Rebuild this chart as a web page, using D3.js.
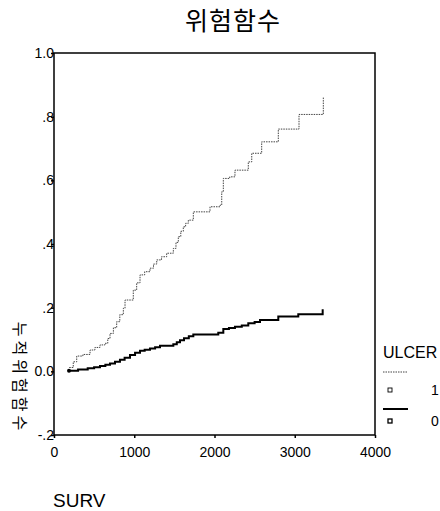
<!DOCTYPE html>
<html>
<head>
<meta charset="utf-8">
<script src="https://cdn.jsdelivr.net/npm/d3@7"></script>
<style>
  html, body { margin: 0; padding: 0; background: #fff; }
  svg { display: block; }
  text { font-family: "Liberation Sans", Arial, sans-serif; fill: #000; }
  .kr { font-family: "Noto Sans CJK KR", "Noto Sans CJK SC", sans-serif; }
</style>
</head>
<body>
<svg id="chart" width="440" height="511"></svg>
<script>
// ---- data ----
const chartTitle = "위험함수";
const yAxisTitle = "누적위험함수";
const xAxisTitle = "SURV";
const legendTitle = "ULCER";
const groups = ["1", "0"];

// ULCER = 1 : cumulative hazard (step function)
const times1 = [190, 240, 283, 360, 449, 510, 573, 636, 670, 698, 740, 781, 820, 864, 885, 988, 1030, 1072, 1130, 1196, 1240, 1280, 1340, 1404, 1487, 1520, 1549, 1580, 1611, 1640, 1674, 1736, 1944, 2069, 2090, 2110, 2190, 2255, 2421, 2464, 2588, 2795, 3053, 3356];
const values1 = [0.012, 0.030, 0.048, 0.053, 0.067, 0.075, 0.083, 0.088, 0.103, 0.119, 0.137, 0.156, 0.178, 0.198, 0.224, 0.255, 0.278, 0.303, 0.313, 0.324, 0.337, 0.350, 0.360, 0.371, 0.386, 0.405, 0.423, 0.440, 0.454, 0.465, 0.475, 0.501, 0.517, 0.522, 0.564, 0.606, 0.611, 0.632, 0.658, 0.685, 0.721, 0.761, 0.807, 0.863];

// ULCER = 0 : cumulative hazard (step function)
const times0 = [187, 300, 420, 500, 573, 640, 698, 760, 822, 880, 947, 1010, 1072, 1130, 1196, 1260, 1321, 1487, 1530, 1570, 1620, 1680, 1736, 2047, 2110, 2180, 2255, 2340, 2421, 2500, 2567, 2795, 3044, 3348];
const values0 = [0.002, 0.006, 0.010, 0.013, 0.017, 0.021, 0.025, 0.030, 0.036, 0.043, 0.051, 0.058, 0.065, 0.068, 0.072, 0.076, 0.080, 0.085, 0.091, 0.098, 0.104, 0.110, 0.116, 0.121, 0.133, 0.136, 0.140, 0.144, 0.151, 0.155, 0.161, 0.172, 0.179, 0.195];

const xTicks = [0, 1000, 2000, 3000, 4000];
const xTickLabels = ["0", "1000", "2000", "3000", "4000"];
const yTicks = [1.0, 0.8, 0.6, 0.4, 0.2, 0.0, -0.2];
const yTickLabels = ["1.0", ".8", ".6", ".4", ".2", "0.0", "-.2"];

// ---- layout ----
const svg = d3.select("#chart");
const plot = { left: 54, top: 53, right: 375, bottom: 435 };

const x = d3.scaleLinear().domain([0, 4000]).range([plot.left, plot.right]);
const y = d3.scaleLinear().domain([-0.2, 1.0]).range([plot.bottom, plot.top]);

// title
svg.append("text")
  .attr("class", "kr")
  .attr("x", 233).attr("y", 30)
  .attr("text-anchor", "middle")
  .style("font-size", "25px")
  .style("letter-spacing", "1px")
  .text(chartTitle);

// frame
svg.append("rect")
  .attr("x", plot.left).attr("y", plot.top)
  .attr("width", plot.right - plot.left).attr("height", plot.bottom - plot.top)
  .attr("fill", "none").attr("stroke", "#000").attr("stroke-width", 1.5);

// x axis
const xAxis = d3.axisBottom(x)
  .tickValues(xTicks)
  .tickSize(3)
  .tickPadding(9)
  .tickFormat((d, i) => xTickLabels[i]);
const gx = svg.append("g").attr("transform", `translate(0,${plot.bottom})`).call(xAxis);
gx.attr("font-size", null).attr("font-family", null);
gx.select(".domain").remove();
gx.selectAll("line").attr("stroke", "#000").attr("stroke-width", 1.5);
gx.selectAll("text").style("font-size", "14px");

// y axis
const yAxis = d3.axisLeft(y)
  .tickValues(yTicks)
  .tickSize(3)
  .tickPadding(-3)
  .tickFormat((d, i) => yTickLabels[i]);
const gy = svg.append("g").attr("transform", `translate(${plot.left},0)`).call(yAxis);
gy.attr("font-size", null).attr("font-family", null);
gy.select(".domain").remove();
gy.selectAll("line").attr("stroke", "#000").attr("stroke-width", 1.5);
gy.selectAll("text").style("font-size", "14px");

// y axis title (rotated, reads top to bottom)
svg.append("text")
  .attr("class", "kr")
  .attr("transform", "translate(14,378) rotate(90)")
  .attr("text-anchor", "middle")
  .style("font-size", "16px")
  .style("letter-spacing", "4px")
  .text(yAxisTitle);

// x axis title
svg.append("text")
  .attr("x", 53).attr("y", 507)
  .style("font-size", "19px")
  .text(xAxisTitle);

// series
const line = d3.line()
  .x(d => x(d[0]))
  .y(d => y(d[1]))
  .curve(d3.curveStepAfter);

const data1 = times1.map((t, i) => [t, values1[i]]);
const data0 = times0.map((t, i) => [t, values0[i]]);

svg.append("path")
  .datum(data1)
  .attr("d", line)
  .attr("fill", "none")
  .attr("stroke", "#444")
  .attr("stroke-width", 1)
  .attr("stroke-dasharray", "1.5,1");

svg.append("path")
  .datum(data0)
  .attr("d", line)
  .attr("fill", "none")
  .attr("stroke", "#000")
  .attr("stroke-width", 2);

svg.append("circle")
  .attr("cx", x(data0[0][0])).attr("cy", y(data0[0][1]))
  .attr("r", 2).attr("fill", "#000");

// legend
svg.append("text")
  .attr("x", 383).attr("y", 358)
  .style("font-size", "16px")
  .text(legendTitle);

const legendRows = [
  { label: groups[0], lineY: 372, markY: 390, dash: "1.5,1", color: "#444", w: 1 },
  { label: groups[1], lineY: 409, markY: 421, dash: null, color: "#000", w: 2 }
];
legendRows.forEach(r => {
  svg.append("line")
    .attr("x1", 383).attr("x2", 408)
    .attr("y1", r.lineY).attr("y2", r.lineY)
    .attr("stroke", r.color).attr("stroke-width", r.w)
    .attr("stroke-dasharray", r.dash);
  svg.append("rect")
    .attr("x", 388).attr("y", r.markY - 2)
    .attr("width", 4).attr("height", 4)
    .attr("fill", "#fff").attr("stroke", "#000").attr("stroke-width", r.w === 2 ? 1.3 : 0.9);
  svg.append("text")
    .attr("x", 431).attr("y", r.markY + 5)
    .style("font-size", "14px")
    .text(r.label);
});
</script>
</body>
</html>
